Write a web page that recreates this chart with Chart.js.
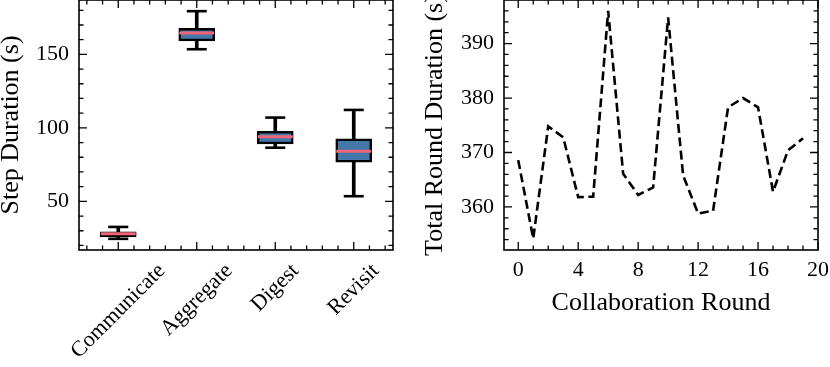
<!DOCTYPE html>
<html>
<head>
<meta charset="utf-8">
<script src="https://cdn.jsdelivr.net/npm/chart.js@4.4.0/dist/chart.umd.min.js"></script>
<style>
  html, body { margin: 0; padding: 0; background: #fff; }
  #wrap { position: relative; width: 830px; height: 367px; overflow: hidden; }
  canvas { position: absolute; top: 0; }
  #boxChart { left: 0; }
  #roundChart { left: 400px; }
</style>
</head>
<body>
<div id="wrap">
  <canvas id="boxChart" width="400" height="367"></canvas>
  <canvas id="roundChart" width="430" height="367"></canvas>
</div>
<script>
// Step durations per phase (box plot stats)
const steps = ['Communicate', 'Aggregate', 'Digest', 'Revisit'];
const whiskerLow = [24.5, 153.5, 86.5, 53.5];
const boxQ1 = [25.8, 159.2, 89.1, 76.7];
const boxMedian = [27.9, 164.5, 93.9, 84.1];
const boxQ3 = [29.3, 167.8, 97.7, 92.5];
const whiskerHigh = [32.6, 179.4, 107.0, 112.2];

// Total duration of each collaboration round
const rounds = [0, 1, 2, 3, 4, 5, 6, 7, 8, 9, 10, 11, 12, 13, 14, 15, 16, 17, 18, 19];
const roundDuration = [368.6, 354.2, 374.8, 372.8, 361.8, 361.9, 396.0, 366.1, 362.2, 363.6,
                       394.8, 365.8, 358.8, 359.3, 378.3, 380.0, 378.3, 362.8, 370.4, 372.6];

// Tick labels
const stepTicksY = [50, 100, 150];
const roundTicksX = [0, 4, 8, 12, 16, 20];
const roundTicksY = [360, 370, 380, 390];

const serif = "'Liberation Serif', 'DejaVu Serif', serif";
const tickFont = { family: serif, size: 22 };
const titleFont = '26px ' + serif;

// minor tick positions (not data, just frame decoration)
function range(from, to, step) {
    const out = [];
    for (let v = from; v <= to + 1e-9; v += step) out.push(Math.round(v * 1000) / 1000);
    return out;
}

// Matplotlib-like frame: box around the plot, ticks pointing inward on all sides
const frameTicks = {
    id: 'frameTicks',
    afterDraw(chart, args, opts) {
        const { ctx, chartArea: a, scales: { x, y } } = chart;
        ctx.save();
        ctx.strokeStyle = '#000';
        ctx.lineWidth = 1.3;
        ctx.beginPath();
        const tick = (vals, len, axis) => {
            vals.forEach(v => {
                if (axis === 'x') {
                    const px = x.getPixelForValue(v);
                    if (px < a.left - 0.5 || px > a.right + 0.5) return;
                    ctx.moveTo(px, a.bottom); ctx.lineTo(px, a.bottom - len);
                    ctx.moveTo(px, a.top); ctx.lineTo(px, a.top + len);
                } else {
                    const py = y.getPixelForValue(v);
                    if (py < a.top - 0.5 || py > a.bottom + 0.5) return;
                    ctx.moveTo(a.left, py); ctx.lineTo(a.left + len, py);
                    ctx.moveTo(a.right, py); ctx.lineTo(a.right - len, py);
                }
            });
        };
        tick(opts.xMajor, 8, 'x');
        tick(opts.xMinor, 4.5, 'x');
        tick(opts.yMajor, 8, 'y');
        tick(opts.yMinor, 4.5, 'y');
        ctx.stroke();
        ctx.lineWidth = 1.6;
        ctx.strokeRect(a.left, a.top, a.right - a.left, a.bottom - a.top);

        // axis titles
        ctx.fillStyle = '#000';
        ctx.font = titleFont;
        ctx.textBaseline = 'alphabetic';
        ctx.textAlign = 'center';
        if (opts.yTitle) {
            ctx.save();
            ctx.translate(opts.yTitleX, (a.top + a.bottom) / 2);
            ctx.rotate(-Math.PI / 2);
            ctx.fillText(opts.yTitle, 0, 0);
            ctx.restore();
        }
        if (opts.xTitle) {
            ctx.fillText(opts.xTitle, (a.left + a.right) / 2, opts.xTitleY);
        }

        // rotated category labels, centred under their tick like matplotlib
        if (opts.rotLabels) {
            ctx.font = tickFont.size + 'px ' + serif;
            ctx.textAlign = 'center';
            ctx.textBaseline = 'middle';
            const s = Math.SQRT1_2;
            opts.rotLabels.forEach((lab, i) => {
                const w = ctx.measureText(lab).width;
                const h = tickFont.size * 1.1;
                const H = (w + h) * s;
                const cx = x.getPixelForValue(i);
                const cy = a.bottom + opts.rotTop + H / 2;
                ctx.save();
                ctx.translate(cx, cy);
                ctx.rotate(-Math.PI / 4);
                ctx.fillText(lab, 0, 0);
                ctx.restore();
            });
        }
        ctx.restore();
    }
};

function noGrid() {
    return { display: false, drawTicks: false };
}

// ---- left: box plot of step durations ----
const capPoints = [];
const medianPoints = [];
steps.forEach((s, i) => {
    capPoints.push({ x: i, y: whiskerHigh[i] });
    capPoints.push({ x: i, y: whiskerLow[i] });
    medianPoints.push({ x: i, y: boxMedian[i] });
});

new Chart(document.getElementById('boxChart'), {
    type: 'bar',
    data: {
        datasets: [{
            type: 'bar',
            data: steps.map((s, i) => ({ x: i, y: [whiskerLow[i], whiskerHigh[i]] })),
            backgroundColor: '#000000',
            borderWidth: 0,
            barThickness: 3,
            grouped: false,
            order: 3
        }, {
            type: 'bar',
            data: steps.map((s, i) => ({ x: i, y: [boxQ1[i], boxQ3[i]] })),
            backgroundColor: '#4477AA',
            borderColor: '#000000',
            borderWidth: 2.5,
            borderSkipped: false,
            barThickness: 36,
            grouped: false,
            order: 2
        }, {
            type: 'line',
            data: capPoints,
            showLine: false,
            pointStyle: 'line',
            pointRadius: 10,
            pointBorderWidth: 2.6,
            pointBorderColor: '#000000',
            order: 1
        }, {
            type: 'line',
            data: medianPoints,
            showLine: false,
            pointStyle: 'line',
            pointRadius: 17.5,
            pointBorderWidth: 3,
            pointBorderColor: '#EE6677',
            order: 0
        }]
    },
    options: {
        responsive: false,
        animation: false,
        events: [],
        layout: { autoPadding: false, padding: { left: 0, right: 7, top: 0, bottom: 0 } },
        plugins: {
            legend: { display: false },
            tooltip: { enabled: false },
            frameTicks: {
                xMajor: [0, 1, 2, 3],
                xMinor: range(-0.4, 3.4, 0.2).filter(v => Math.abs(v - Math.round(v)) > 1e-6),
                yMajor: stepTicksY,
                yMinor: range(20, 180, 10).filter(v => v % 50 !== 0),
                yTitle: 'Step Duration (s)',
                yTitleX: 17.5,
                rotLabels: steps,
                rotTop: 9
            }
        },
        scales: {
            x: {
                type: 'linear',
                min: -0.5,
                max: 3.5,
                offset: false,
                grid: noGrid(),
                border: { display: false },
                ticks: { display: false },
                afterFit: function(scale) {
                    scale.height = 117;
                    scale.paddingLeft = 0;
                    scale.paddingRight = 0;
                }
            },
            y: {
                min: 16.9,
                max: 187,
                grid: noGrid(),
                border: { display: false },
                ticks: { font: tickFont, color: '#000', padding: 10 },
                afterBuildTicks: function(scale) {
                    scale.ticks = stepTicksY.map(v => ({ value: v }));
                },
                afterFit: function(scale) {
                    scale.width = 79;
                    scale.paddingTop = 0;
                    scale.paddingBottom = 0;
                }
            }
        }
    },
    plugins: [frameTicks]
});

// ---- right: total duration per round ----
new Chart(document.getElementById('roundChart'), {
    type: 'line',
    data: {
        datasets: [{
            data: rounds.map((r, i) => ({ x: r, y: roundDuration[i] })),
            borderColor: '#000000',
            borderWidth: 2.6,
            borderDash: [9, 4.5],
            pointRadius: 0,
            tension: 0,
            fill: false
        }]
    },
    options: {
        responsive: false,
        animation: false,
        events: [],
        layout: { autoPadding: false, padding: { left: 0, right: 12, top: 0, bottom: 0 } },
        plugins: {
            legend: { display: false },
            tooltip: { enabled: false },
            frameTicks: {
                xMajor: roundTicksX,
                xMinor: range(0, 19, 1).filter(v => v % 4 !== 0),
                yMajor: roundTicksY,
                yMinor: range(354, 396, 2).filter(v => v % 10 !== 0),
                yTitle: 'Total Round Duration (s)',
                yTitleX: 41.5,
                xTitle: 'Collaboration Round',
                xTitleY: 310
            }
        },
        scales: {
            x: {
                type: 'linear',
                min: -0.95,
                max: 20,
                grid: noGrid(),
                border: { display: false },
                ticks: { font: tickFont, color: '#000', padding: 7, maxRotation: 0 },
                afterBuildTicks: function(scale) {
                    scale.ticks = roundTicksX.map(v => ({ value: v }));
                },
                afterFit: function(scale) {
                    scale.height = 117;
                    scale.paddingLeft = 0;
                    scale.paddingRight = 0;
                }
            },
            y: {
                min: 352.1,
                max: 398,
                grid: noGrid(),
                border: { display: false },
                ticks: { font: tickFont, color: '#000', padding: 10 },
                afterBuildTicks: function(scale) {
                    scale.ticks = roundTicksY.map(v => ({ value: v }));
                },
                afterFit: function(scale) {
                    scale.width = 104;
                    scale.paddingTop = 0;
                    scale.paddingBottom = 0;
                }
            }
        }
    },
    plugins: [frameTicks]
});
</script>
</body>
</html>
